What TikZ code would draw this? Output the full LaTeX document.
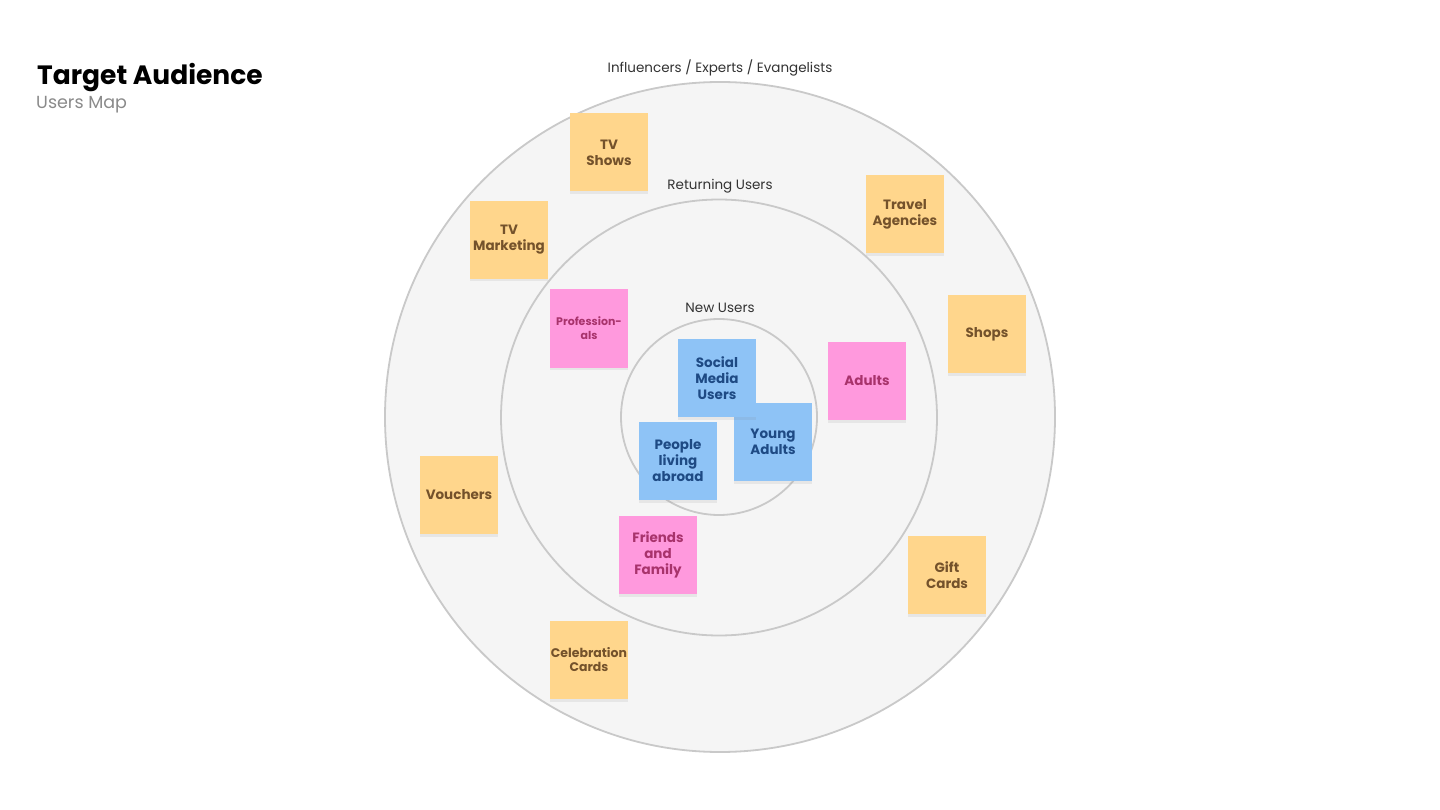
\documentclass[tikz,border=0pt]{standalone}
\usepackage{fontspec}
\setmainfont{Poppins}
\usetikzlibrary{shadows}
\definecolor{ringfill}{HTML}{F5F5F5}
\definecolor{ringline}{HTML}{C9C9C9}
\definecolor{orangefill}{HTML}{FFD68C}
\definecolor{orangetext}{HTML}{74522B}
\definecolor{pinkfill}{HTML}{FF99DD}
\definecolor{pinktext}{HTML}{A8336C}
\definecolor{bluefill}{HTML}{8EC3F6}
\definecolor{bluetext}{HTML}{1E4A84}
\definecolor{labeltext}{HTML}{333333}
\definecolor{subtext}{HTML}{8A8A8A}
\tikzset{
  ring/.style={circle, draw=ringline, fill=ringfill, line width=1.8pt, inner sep=0pt},
  ringlabel/.style={text=labeltext, font=\fontsize{13.5}{16}\selectfont, inner sep=0pt},
  note/.style={rectangle, minimum width=78pt, minimum height=78pt, inner sep=0pt, align=center,
    font=\bfseries\fontsize{13.5}{16}\selectfont,
    drop shadow={opacity=0.12, shadow xshift=0pt, shadow yshift=-2.5pt}},
  orangenote/.style={note, fill=orangefill, text=orangetext},
  pinknote/.style={note, fill=pinkfill, text=pinktext},
  bluenote/.style={note, fill=bluefill, text=bluetext},
  smalltext/.style={font=\bfseries\fontsize{11}{14}\selectfont},
  mediumtext/.style={font=\bfseries\fontsize{12.5}{14}\selectfont}
}
\begin{document}
\begin{tikzpicture}[x=1pt,y=-1pt]
\useasboundingbox (0,0) rectangle (1440,810);
\fill[white] (0,0) rectangle (1440,810);
% title
\node[anchor=base west, inner sep=0pt, font=\bfseries\fontsize{26.5}{30}\selectfont] (title) at (37,84.5) {Target Audience};
\node[anchor=base west, inner sep=0pt, text=subtext, font=\fontsize{17.5}{20}\selectfont] (subtitle) at (36,108.5) {Users Map};
% rings
\node[ring, minimum size=670pt] (outer) at (720,417) {};
\node[ring, minimum size=436pt] (middle) at (719,417.5) {};
\node[ring, minimum size=196pt] (inner) at (719,417) {};
\node[ringlabel] (outerlabel) at (720,68) {Influencers / Experts / Evangelists};
\node[ringlabel] (middlelabel) at (720,186) {Returning Users};
\node[ringlabel] (innerlabel) at (720,308) {New Users};
% outer ring notes
\node[orangenote] (tvshows) at (609,152.5) {TV\\Shows};
\node[orangenote] (tvmarketing) at (509,240) {TV\\Marketing};
\node[orangenote] (travel) at (905,214.5) {Travel\\Agencies};
\node[orangenote] (shops) at (987,334) {Shops};
\node[orangenote] (vouchers) at (459,495) {Vouchers};
\node[orangenote] (gift) at (947,575) {Gift\\Cards};
\node[orangenote, mediumtext] (celebration) at (589,660) {Celebration\\Cards};
% middle ring notes
\node[pinknote, smalltext] (professionals) at (589,328.5) {Profession-\\als};
\node[pinknote] (adults) at (867,381) {Adults};
\node[pinknote] (friends) at (658,555) {Friends\\and\\Family};
% inner ring notes
\node[bluenote] (young) at (773,442) {Young\\Adults};
\node[bluenote] (social) at (717,378) {Social\\Media\\Users};
\node[bluenote] (abroad) at (678,461) {People\\living\\abroad};
\end{tikzpicture}
\end{document}
